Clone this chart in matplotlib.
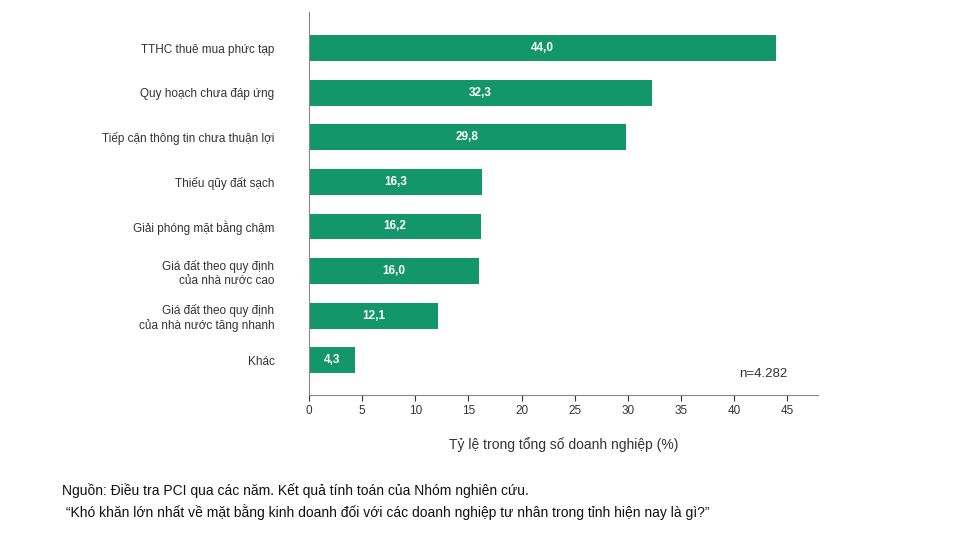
import matplotlib
matplotlib.use("Agg")
import matplotlib.pyplot as plt

categories = ["TTHC thuê mua phức tạp", "Quy hoạch chưa đáp ứng", "Tiếp cận thông tin chưa thuận lợi",
              "Thiếu qũy đất sạch", "Giải phóng mặt bằng chậm",
              "Giá đất theo quy định\ncủa nhà nước cao", "Giá đất theo quy định\ncủa nhà nước tăng nhanh", "Khác"]
values = [44.0, 32.3, 29.8, 16.3, 16.2, 16.0, 12.1, 4.3]
xticks = [0, 5, 10, 15, 20, 25, 30, 35, 40, 45]

plt.rcParams["font.family"] = "Liberation Sans"
fig = plt.figure(figsize=(9.6, 5.46), dpi=100)
ax = fig.add_axes([0.322, 0.2766, 0.53, 0.7014])
color = "#13966a"
ys = range(len(values))
ax.barh(ys, values, height=0.58, color=color)
for y, v in zip(ys, values):
    ax.text(v / 2, y, f"{v:.1f}".replace(".", ","), ha="center", va="center",
            color="white", fontsize=8.5, fontweight="bold")
ax.set_yticks(list(ys))
ax.set_yticklabels(categories, fontsize=8.5, color="#333333")
ax.tick_params(axis="y", length=0, pad=25)
ax.set_ylim(7.78, -0.81)
ax.set_xlim(0, 47.9)
ax.set_xticks(xticks)
ax.tick_params(axis="x", labelsize=8.5, colors="#333333", length=4, direction="out")
for s in ["top", "right"]:
    ax.spines[s].set_visible(False)
for s in ["left", "bottom"]:
    ax.spines[s].set_color("#888888")
ax.set_xlabel("Tỷ lệ trong tổng số doanh nghiệp (%)", fontsize=10, color="#333333", labelpad=14)
ax.text(45, 7.45, "n=4.282", ha="right", va="bottom", fontsize=9.5, color="#333333")
fig.text(62/960, 1-491/546, "Nguồn: Điều tra PCI qua các năm. Kết quả tính toán của Nhóm nghiên cứu.",
         fontsize=10, va="center", color="#111111")
fig.text(62/960, 1-512/546, " “Khó khăn lớn nhất về mặt bằng kinh doanh đối với các doanh nghiệp tư nhân trong tỉnh hiện nay là gì?”",
         fontsize=10, va="center", color="#111111")
fig.savefig("out.png", dpi=100)
